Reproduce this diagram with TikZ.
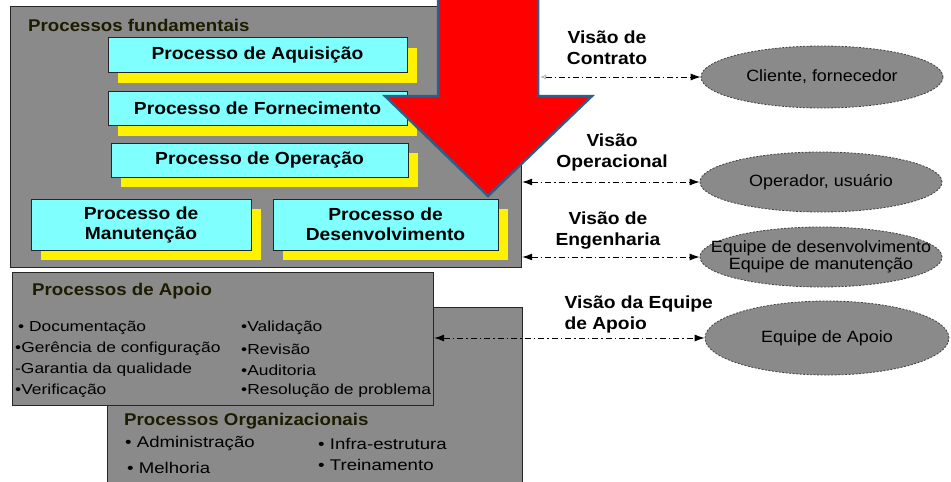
\documentclass[tikz,border=0pt]{standalone}
\usepackage{fontspec}
\setmainfont{Liberation Sans}
\newfontfamily\wfa[FakeStretch=1.1]{Liberation Sans}
\newfontfamily\wfb[FakeStretch=1.2]{Liberation Sans}
\usetikzlibrary{arrows.meta,shapes.geometric,shadows}

\definecolor{boxgray}{RGB}{138,138,138}
\definecolor{cyanbox}{RGB}{128,255,255}
\definecolor{arrowedge}{RGB}{46,94,140}
\definecolor{titlecol}{RGB}{28,28,0}

\begin{document}
\begin{tikzpicture}[x=1pt,y=-1pt,
  panel/.style={draw=black!85, line width=1.2pt, fill=boxgray, inner sep=0pt},
  proc/.style={draw=black!85, line width=1pt, fill=cyanbox, align=center, inner sep=0pt,
    font=\wfa\bfseries\fontsize{17.5}{20}\selectfont,
    drop shadow={shadow xshift=10pt, shadow yshift=-10pt, fill=yellow, opacity=1}},
  view/.style={ellipse, draw=black!75, dash pattern=on 2pt off 1.5pt, line width=0.8pt, fill=boxgray,
    align=center, inner sep=0pt, font=\wfa\fontsize{16.3}{17}\selectfont},
  conn/.style={line width=0.9pt, dash pattern=on 6pt off 3pt on 1.5pt off 3pt},
  lbl/.style={font=\wfa\bfseries\fontsize{17.5}{21}\selectfont, align=center},
  ptitle/.style={font=\wfa\bfseries\fontsize{17}{19}\selectfont, text=titlecol, anchor=west, inner sep=0pt},
  item/.style={font=\wfb\fontsize{14.5}{17}\selectfont, anchor=west, inner sep=0pt},
  oitem/.style={font=\wfb\fontsize{15.5}{17}\selectfont, anchor=west, inner sep=0pt}
]
\path[fill=white, use as bounding box] (0,0) rectangle (951,482);

% ---- panels
\node[panel, minimum width=511, minimum height=261, anchor=north west] (fund) at (10,6) {};
\node[ptitle] (tfund) at (28,25) {Processos fundamentais};

\node[panel, minimum width=415, minimum height=176, anchor=north west] (org) at (107,307) {};
\node[panel, minimum width=421, minimum height=133, anchor=north west] (apoio) at (12,272) {};

% ---- process boxes
\node[proc, minimum width=299, minimum height=35] (aq) at (257.5,55) {Processo de Aquisição};
\node[proc, minimum width=299, minimum height=34] (fo) at (257.5,108.5) {Processo de Fornecimento};
\node[proc, minimum width=297, minimum height=34] (op) at (259.5,160) {Processo de Operação};
\node[proc, minimum width=220, minimum height=51] (ma) at (141,224.5) {Processo de\\Manutenção};
\node[proc, minimum width=225, minimum height=51] (de) at (385.5,224.5) {Processo de\\Desenvolvimento};

% ---- red arrow
\draw[fill=red, draw=arrowedge, line width=2.5pt, line join=miter]
  (438,-10) -- (538,-10) -- (538,96) -- (592,96) -- (488,196) -- (385,96) -- (438,96) -- cycle;

% ---- apoio texts
\node[ptitle] (tapoio) at (32,291) {Processos de Apoio};
\node[item] (a1) at (18,328) {• Documentação};
\node[item] (a2) at (15,349) {•Gerência de configuração};
\node[item] (a3) at (15,370) {-Garantia da qualidade};
\node[item] (a4) at (15,391) {•Verificação};
\node[item] (a5) at (241,328) {•Validação};
\node[item] (a6) at (241,349) {•Revisão};
\node[item] (a7) at (241,370) {•Auditoria};
\node[item] (a8) at (241,391) {•Resolução de problema};

% ---- organizacionais texts
\node[ptitle] (torg) at (124,421) {Processos Organizacionais};
\node[oitem] (o1) at (125,444) {• Administração};
\node[oitem] (o2) at (127,468) {• Melhoria};
\node[oitem] (o3) at (318,444) {• Infra-estrutura};
\node[oitem] (o4) at (318,465) {• Treinamento};

% ---- views
\node[view, minimum width=242, minimum height=62] (cli) at (822,77) {Cliente, fornecedor};
\node[view, minimum width=242, minimum height=60] (opu) at (821,182) {Operador, usuário};
\node[view, minimum width=242, minimum height=60, inner xsep=-40pt, inner ysep=-8pt] (eqd) at (821,257) {Equipe de desenvolvimento\\Equipe de manutenção};
\node[view, minimum width=244, minimum height=74] (eqa) at (827,338) {Equipe de Apoio};

\node[lbl] (l1) at (607,48) {Visão de\\Contrato};
\node[lbl] (l2) at (612,152) {Visão\\Operacional};
\node[lbl] (l3) at (608,231) {Visão de\\Engenharia};
\node[lbl, align=left, anchor=west] (l4) at (561,314) {Visão da Equipe\\ de Apoio};

% ---- connectors
\coordinate (c1) at (540,77);
\draw[conn, {Latex[open,length=6pt,width=5pt,color=black!30]}-{Latex[length=10pt,width=7pt]}] (c1) -- (cli.west);
\draw[conn, {Latex[length=10pt,width=7pt]}-{Latex[length=10pt,width=7pt]}] (fund.east |- opu.west) -- (opu.west);
\draw[conn, {Latex[length=10pt,width=7pt]}-{Latex[length=10pt,width=7pt]}] (fund.east |- eqd.west) -- (eqd.west);
\draw[conn, {Latex[length=10pt,width=7pt]}-{Latex[length=10pt,width=7pt]}] (apoio.east |- eqa.west) -- (eqa.west);
\end{tikzpicture}
\end{document}
